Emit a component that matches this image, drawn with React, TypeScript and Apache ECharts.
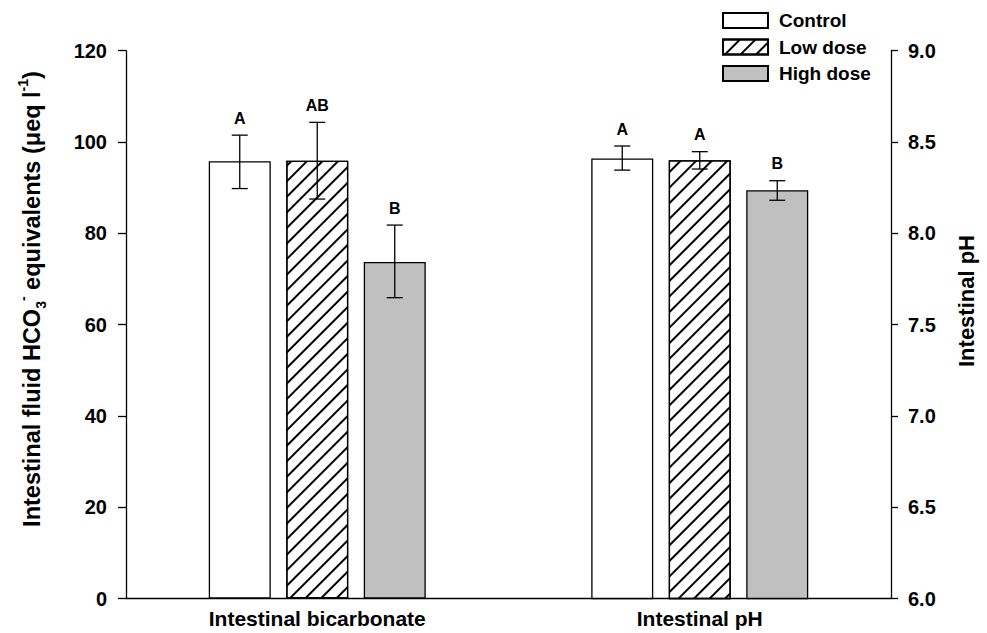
import React, { useEffect, useRef } from "react";
import * as echarts from "echarts";

const categories = ["Intestinal bicarbonate", "Intestinal pH"];
const doses = ["Control", "Low dose", "High dose"];

const bicarbMean = [95.8, 95.9, 73.7];
const bicarbLow = [89.8, 87.5, 65.9];
const bicarbHigh = [101.5, 104.3, 81.8];
const bicarbLetters = ["A", "AB", "B"];

const phMean = [8.41, 8.4, 8.236];
const phLow = [8.346, 8.352, 8.181];
const phHigh = [8.478, 8.447, 8.288];
const phLetters = ["A", "A", "B"];

const leftAxis = { min: 0, max: 120, interval: 20 };
const rightAxis = { min: 6.0, max: 9.0, interval: 0.5 };

const FONT = "'Liberation Sans', Arial, Helvetica, sans-serif";
const BAR_W = 62;
const BAR_GAP = 0.25;
const STEP = BAR_W * (1 + BAR_GAP);

const hatch = {
  symbol: "rect",
  symbolSize: 1,
  color: "#000",
  backgroundColor: "#fff",
  dashArrayX: [1, 0],
  dashArrayY: [1.3, 9],
  rotation: -Math.PI / 4,
};

const barStyles = [
  { color: "#ffffff", borderColor: "#000", borderWidth: 1.3 },
  { color: "#ffffff", borderColor: "#000", borderWidth: 1.3, decal: hatch },
  { color: "#c0c0c0", borderColor: "#000", borderWidth: 1.3 },
];

function errSeries(
  axisIdx: number,
  catIdx: number,
  lows: number[],
  highs: number[],
  letters: string[]
) {
  return {
    type: "custom",
    xAxisIndex: axisIdx,
    yAxisIndex: axisIdx,
    clip: false,
    z: 10,
    silent: true,
    data: lows.map((lo, i) => [catIdx, lo, highs[i], i]),
    renderItem: (params: any, api: any) => {
      const cat = api.value(0);
      const lo = api.value(1);
      const hi = api.value(2);
      const slot = api.value(3);
      const pLo = api.coord([cat, lo]);
      const pHi = api.coord([cat, hi]);
      const x = pLo[0] + (slot - 1) * STEP;
      const cap = 8;
      const ls = { stroke: "#000", lineWidth: 1.3 };
      return {
        type: "group",
        children: [
          { type: "line", shape: { x1: x, y1: pLo[1], x2: x, y2: pHi[1] }, style: ls },
          { type: "line", shape: { x1: x - cap, y1: pLo[1], x2: x + cap, y2: pLo[1] }, style: ls },
          { type: "line", shape: { x1: x - cap, y1: pHi[1], x2: x + cap, y2: pHi[1] }, style: ls },
          {
            type: "text",
            x: x,
            y: pHi[1] - 17,
            style: {
              text: letters[params.dataIndex],
              fill: "#000",
              font: `bold 16px ${FONT}`,
              textAlign: "center",
              textVerticalAlign: "middle",
            },
          },
        ],
      };
    },
  };
}

export default function App() {
  const ref = useRef<HTMLDivElement>(null);
  useEffect(() => {
    document.body.style.margin = "0";
    const chart = echarts.init(ref.current!, null, { renderer: "svg" });
    const axisLine = { show: true, lineStyle: { color: "#000", width: 1.3 } };
    const labelStyle = { color: "#000", fontSize: 20, fontWeight: "bold", fontFamily: FONT };

    const barSeries: any[] = [];
    doses.forEach((d, i) => {
      barSeries.push({
        name: d,
        type: "bar",
        xAxisIndex: 0,
        yAxisIndex: 0,
        barWidth: BAR_W,
        barGap: `${BAR_GAP * 100}%`,
        itemStyle: barStyles[i],
        data: [bicarbMean[i], "-"],
      });
    });
    doses.forEach((d, i) => {
      barSeries.push({
        name: d,
        type: "bar",
        xAxisIndex: 1,
        yAxisIndex: 1,
        barWidth: BAR_W,
        barGap: `${BAR_GAP * 100}%`,
        itemStyle: barStyles[i],
        data: ["-", phMean[i]],
      });
    });

    chart.setOption({
      animation: false,
      backgroundColor: "#fff",
      textStyle: { fontFamily: FONT },
      grid: { left: 126, right: 96, top: 50.7, bottom: 34.5, containLabel: false },
      legend: {
        orient: "vertical",
        left: 722,
        top: 11,
        padding: 0,
        itemWidth: 45,
        itemHeight: 15,
        itemGap: 7.5,
        icon: "rect",
        data: doses,
        selectedMode: false,
        textStyle: {
          color: "#000",
          fontSize: 19,
          fontWeight: "bold",
          fontFamily: FONT,
          padding: [0, 0, 0, 6],
        },
      },
      xAxis: [
        {
          type: "category",
          data: categories,
          axisLine,
          axisTick: { show: false },
          axisLabel: { ...labelStyle, fontSize: 21, margin: 9 },
          splitLine: { show: false },
        },
        {
          type: "category",
          data: categories,
          show: false,
        },
      ],
      yAxis: [
        {
          type: "value",
          position: "left",
          min: leftAxis.min,
          max: leftAxis.max,
          interval: leftAxis.interval,
          axisLine,
          axisTick: { show: true, inside: false, length: 8, lineStyle: { color: "#000", width: 1.3 } },
          axisLabel: { ...labelStyle, margin: 19 },
          splitLine: { show: false },
        },
        {
          type: "value",
          position: "right",
          min: rightAxis.min,
          max: rightAxis.max,
          interval: rightAxis.interval,
          axisLine,
          axisTick: { show: true, inside: false, length: 7, lineStyle: { color: "#000", width: 1.3 } },
          axisLabel: { ...labelStyle, margin: 17, formatter: (v: number) => v.toFixed(1) },
          splitLine: { show: false },
        },
      ],
      graphic: [
        {
          type: "text",
          x: 32,
          y: 299,
          rotation: Math.PI / 2,
          style: {
            text: "{n|Intestinal fluid HCO}{sub|3}{sup|-}{n| equivalents (μeq l}{sup|-1}{n|)}",
            textAlign: "center",
            textVerticalAlign: "middle",
            fill: "#000",
            rich: {
              n: { fontSize: 23.5, fontWeight: "bold", fontFamily: FONT, lineHeight: 32 },
              sub: { fontSize: 14, fontWeight: "bold", fontFamily: FONT, verticalAlign: "bottom", lineHeight: 14 },
              sup: { fontSize: 14, fontWeight: "bold", fontFamily: FONT, verticalAlign: "top", lineHeight: 14 },
            },
          },
        },
        {
          type: "text",
          x: 966,
          y: 301,
          rotation: Math.PI / 2,
          style: {
            text: "Intestinal pH",
            textAlign: "center",
            textVerticalAlign: "middle",
            fill: "#000",
            font: `bold 22px ${FONT}`,
          },
        },
      ],
      series: [
        ...barSeries,
        errSeries(0, 0, bicarbLow, bicarbHigh, bicarbLetters),
        errSeries(1, 1, phLow, phHigh, phLetters),
      ],
    });
    return () => chart.dispose();
  }, []);
  return <div ref={ref} style={{ width: 987, height: 633 }} />;
}
